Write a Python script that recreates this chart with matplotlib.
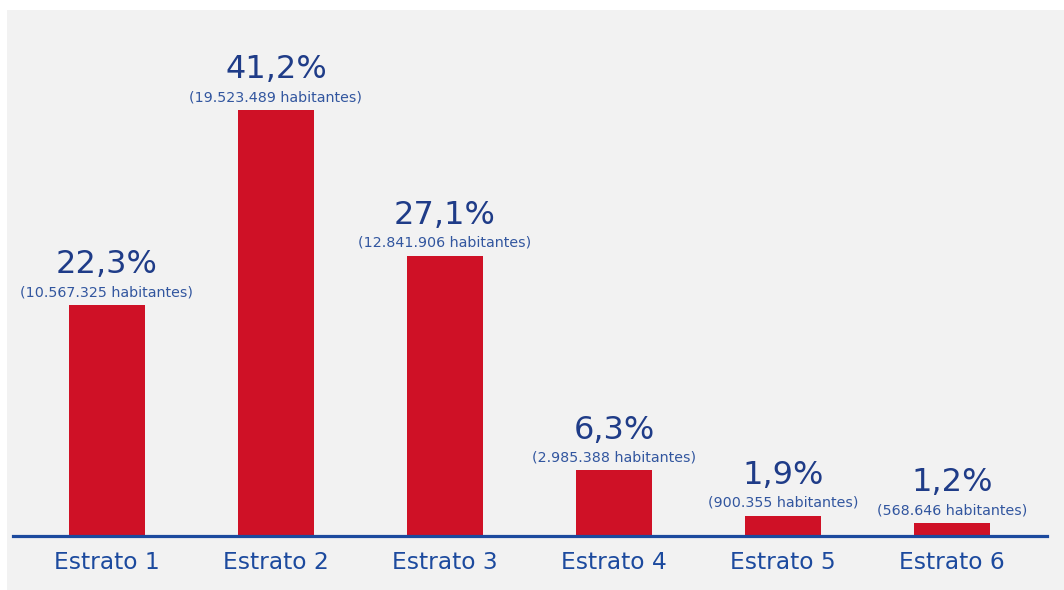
import matplotlib
matplotlib.use("Agg")
import matplotlib.pyplot as plt
from matplotlib.patches import Rectangle

# Distribución de la población por estrato
categorias = ["Estrato 1", "Estrato 2", "Estrato 3", "Estrato 4", "Estrato 5", "Estrato 6"]
porcentajes = [22.3, 41.2, 27.1, 6.3, 1.9, 1.2]
habitantes = ["10.567.325", "19.523.489", "12.841.906", "2.985.388", "900.355", "568.646"]

ROJO = "#cf1126"
AZUL_OSCURO = "#1f3c88"
AZUL_MEDIO = "#32569f"
AZUL_LINEA = "#1c4a9e"
FONDO = "#f2f2f2"

plt.rcParams["font.family"] = ["DejaVu Sans"]

W, H = 1064, 590
fig = plt.figure(figsize=(W / 100, H / 100), dpi=100)
fig.patch.set_facecolor("white")

# light panel behind the chart
fig.add_artist(Rectangle((7 / W, 0), 1 - 7 / W, (H - 10) / H,
                         transform=fig.transFigure, facecolor=FONDO,
                         edgecolor="none", zorder=-10))

ax = fig.add_axes([13 / W, (H - 535.5) / H, (1047 - 13) / W, 525.5 / H])
ax.set_zorder(1)
ax.set_facecolor("none")
for s in ax.spines.values():
    s.set_visible(False)
ax.set_xticks([])
ax.set_yticks([])

x = list(range(len(categorias)))
ax.bar(x, porcentajes, width=0.453, color=ROJO, zorder=2)
ax.axhline(0, color=AZUL_LINEA, lw=2.3, zorder=3, clip_on=False)

ax.set_xlim(-0.556, 5.562)
ax.set_ylim(0, 50.9)

for xi, p, h, cat in zip(x, porcentajes, habitantes, categorias):
    ax.annotate(f"{p:.1f}".replace(".", ",") + "%", (xi, p),
                xytext=(0, 23), textcoords="offset points",
                ha="center", va="baseline", fontsize=23,
                color=AZUL_OSCURO, zorder=4)
    ax.annotate(f"({h} habitantes)", (xi, p),
                xytext=(0, 6.5), textcoords="offset points",
                ha="center", va="baseline", fontsize=10.3,
                color=AZUL_MEDIO, zorder=4)
    ax.annotate(cat, (xi, 0), xytext=(0, -24), textcoords="offset points",
                ha="center", va="baseline", fontsize=16.8,
                color=AZUL_LINEA, annotation_clip=False, zorder=4)

fig.savefig("out.png", dpi=100, facecolor=fig.get_facecolor())
